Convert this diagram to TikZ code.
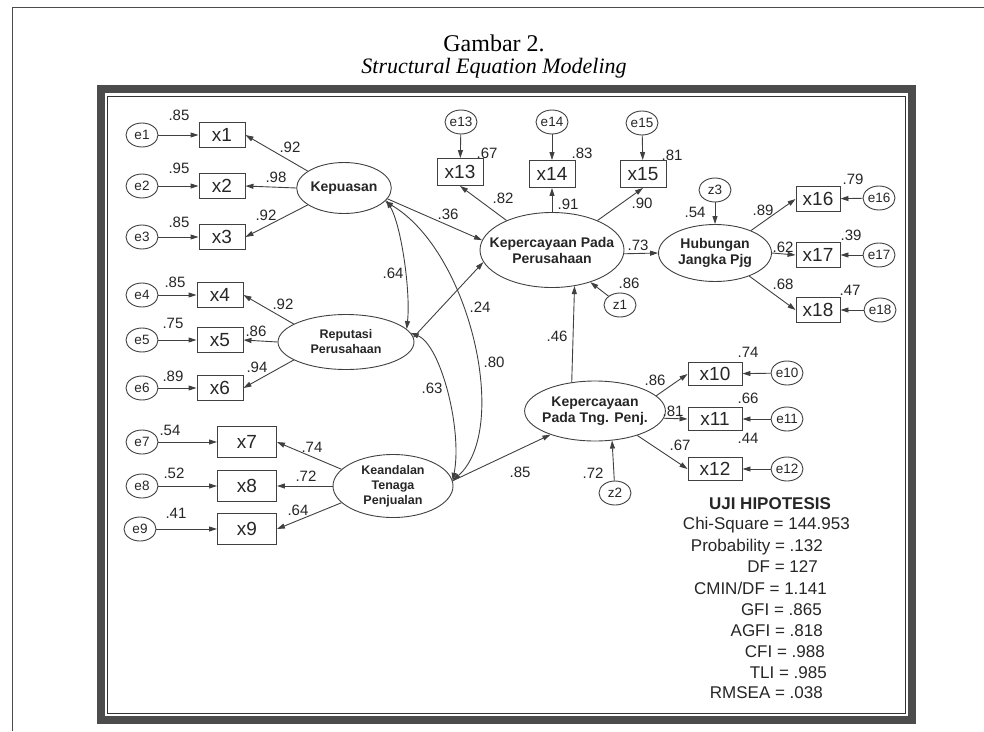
\documentclass[tikz,border=0pt]{standalone}
\usepackage{fontspec}
\setmainfont{Liberation Serif}
\setsansfont{Liberation Sans}
\usetikzlibrary{shapes, arrows.meta, calc}

\begin{document}
\begin{tikzpicture}[%
    x=1pt, y=-1pt,                          % one unit per pixel, y runs down
    >={Triangle[length=8pt, width=5pt]},    % filled heads as in the AMOS output
    ]

\useasboundingbox (0,0) rectangle (984,731);

\tikzset{
  base/.style={inner sep=0pt, text=black!85, font=\sffamily},
  obs/.style={base, draw=black!75, line width=0.9pt, minimum width=46, minimum height=25,
              font=\sffamily\fontsize{19}{19}\selectfont},
  obswide/.style={obs, minimum width=59, minimum height=31},
  lat/.style={base, draw=black!75, line width=0.9pt, ellipse, align=center,
              font=\sffamily\bfseries\fontsize{14}{16}\selectfont},
  latsmall/.style={lat, font=\sffamily\bfseries\fontsize{12.5}{15}\selectfont},
  err/.style={base, draw=black!75, line width=0.9pt, ellipse, minimum width=32, minimum height=24,
              font=\sffamily\fontsize{13.5}{13.5}\selectfont},
  coef/.style={base, font=\sffamily\fontsize{15}{15}\selectfont},
  stat/.style={base, anchor=east, font=\sffamily\fontsize{17}{17}\selectfont},
  link/.style={->, draw=black!75, line width=0.9pt},
  cov/.style={<->, draw=black!75, line width=0.9pt}
  };

% page and frame
\draw[black!70, line width=1pt] (12,731) -- (12,7) -- (984,7);
\draw[black!70, line width=8pt] (101,89) rectangle (912,720);
\draw[black!80, line width=0.8pt] (107,96) rectangle (905,713);

\node[font=\fontsize{24}{24}\selectfont] (title) at (494,43) {Gambar 2.};
\node[font=\itshape\fontsize{22}{22}\selectfont] (subtitle) at (494,68) {Structural Equation Modeling};

% Kepuasan
\node[lat, minimum width=92, minimum height=51] (kepuasan) at (344,188) {Kepuasan};
\node[obs] (x1) at (222,135) {x1};
\node[obs] (x2) at (222,186) {x2};
\node[obs] (x3) at (222,237) {x3};
\node[err] (e1) at (142,135) {e1};
\node[err] (e2) at (142,186) {e2};
\node[err] (e3) at (142,237) {e3};

\draw[link] (e1) -- (x1);
\draw[link] (e2) -- (x2);
\draw[link] (e3) -- (x3);
\draw[link] (kepuasan.155) -- (x1.east);
\draw[link] (kepuasan.west) -- (x2.east);
\draw[link] (kepuasan.205) -- (x3.east);

\node[coef] (sq1) at (179,115) {.85};
\node[coef] (sq2) at (179,168) {.95};
\node[coef] (sq3) at (179,222) {.85};
\node[coef] (ld1) at (290,147) {.92};
\node[coef] (ld2) at (276,177) {.98};
\node[coef] (ld3) at (266,215) {.92};

% Reputasi Perusahaan
\node[latsmall, minimum width=136, minimum height=55] (reputasi) at (346,342) {Reputasi\\Perusahaan};
\node[obs] (x4) at (220,295) {x4};
\node[obs] (x5) at (220,340) {x5};
\node[obs] (x6) at (220,388) {x6};
\node[err] (e4) at (142,295) {e4};
\node[err] (e5) at (142,340) {e5};
\node[err] (e6) at (142,388) {e6};

\draw[link] (e4) -- (x4);
\draw[link] (e5) -- (x5);
\draw[link] (e6) -- (x6);
\draw[link] (reputasi.161) -- (x4.east);
\draw[link] (reputasi.west) -- (x5.east);
\draw[link] (reputasi.199) -- (x6.east);

\node[coef] (sq4) at (175,282) {.85};
\node[coef] (sq5) at (173,323) {.75};
\node[coef] (sq6) at (173,376) {.89};
\node[coef] (ld4) at (283,304) {.92};
\node[coef] (ld5) at (256,331) {.86};
\node[coef] (ld6) at (257,367) {.94};

% Keandalan Tenaga Penjualan
\node[latsmall, minimum width=120, minimum height=63] (keandalan) at (393,486) {Keandalan\\Tenaga\\Penjualan};
\node[obswide] (x7) at (247,442) {x7};
\node[obswide] (x8) at (247,486) {x8};
\node[obswide] (x9) at (247,529) {x9};
\node[err] (e7) at (142,442) {e7};
\node[err] (e8) at (142,486) {e8};
\node[err] (e9) at (140,529) {e9};

\draw[link] (e7) -- (x7);
\draw[link] (e8) -- (x8);
\draw[link] (e9) -- (x9);
\draw[link] (keandalan.162) -- (x7.east);
\draw[link] (keandalan.west) -- (x8.east);
\draw[link] (keandalan.198) -- (x9.east);

\node[coef] (sq7) at (170,430) {.54};
\node[coef] (sq8) at (174,473) {.52};
\node[coef] (sq9) at (176,513) {.41};
\node[coef] (ld7) at (312,447) {.74};
\node[coef] (ld8) at (306,476) {.72};
\node[coef] (ld9) at (298,510) {.64};

% Kepercayaan Pada Perusahaan
\node[lat, inner xsep=-13pt, minimum width=144, minimum height=75] (percayaPerusahaan) at (552,250)
    {Kepercayaan Pada\\Perusahaan};
\node[obs, minimum height=27] (x13) at (460,172) {x13};
\node[obs, minimum height=27] (x14) at (552,174) {x14};
\node[obs, minimum height=27] (x15) at (643,174) {x15};
\node[err] (e13) at (461,122) {e13};
\node[err] (e14) at (552,122) {e14};
\node[err] (e15) at (642,123) {e15};
\node[err] (z1) at (620,305) {z1};

\draw[link] (e13) -- (x13);
\draw[link] (e14) -- (x14);
\draw[link] (e15) -- (x15);
\draw[link] (percayaPerusahaan.147) -- (x13.south);
\draw[link] (percayaPerusahaan.north) -- (x14.south);
\draw[link] (percayaPerusahaan.33) -- (x15.south);
\draw[link] (z1) -- (percayaPerusahaan.-40);

\node[coef] (sq13) at (487,153) {.67};
\node[coef] (sq14) at (582,153) {.83};
\node[coef] (sq15) at (672,155) {.81};
\node[coef] (ld13) at (503,198) {.82};
\node[coef] (ld14) at (568,204) {.91};
\node[coef] (ld15) at (642,203) {.90};
\node[coef] (sqPer) at (629,283) {.86};

% Hubungan Jangka Pjg
\node[lat, minimum width=113, minimum height=57] (hubungan) at (715,253) {Hubungan\\Jangka Pjg};
\node[obs, minimum width=44] (x16) at (818,199) {x16};
\node[obs, minimum width=44] (x17) at (818,255) {x17};
\node[obs, minimum width=44] (x18) at (818,310) {x18};
\node[err] (e16) at (879,198) {e16};
\node[err] (e17) at (879,255) {e17};
\node[err] (e18) at (880,310) {e18};
\node[err] (z3) at (715,190) {z3};

\draw[link] (e16) -- (x16);
\draw[link] (e17) -- (x17);
\draw[link] (e18) -- (x18);
\draw[link] (hubungan.32) -- (x16.west);
\draw[link] (hubungan.east) -- (x17.west);
\draw[link] (hubungan.-34) -- (x18.west);
\draw[link] (z3) -- (hubungan.north);

\node[coef] (sq16) at (853,179) {.79};
\node[coef] (sq17) at (851,235) {.39};
\node[coef] (sq18) at (850,290) {.47};
\node[coef] (ld16) at (763,210) {.89};
\node[coef] (ld17) at (783,247) {.62};
\node[coef] (ld18) at (783,284) {.68};
\node[coef] (sqHub) at (695,212) {.54};

% Kepercayaan Pada Tng. Penj.
\node[lat, inner xsep=-3pt, minimum width=140, minimum height=60] (percayaPenjual) at (595,411)
    {Kepercayaan\\Pada Tng. Penj.};
\node[obs, minimum width=54, minimum height=23] (x10) at (715,374) {x10};
\node[obs, minimum width=54, minimum height=23] (x11) at (715,419) {x11};
\node[obs, minimum width=54, minimum height=23] (x12) at (715,469) {x12};
\node[err] (e10) at (787,373) {e10};
\node[err] (e11) at (787,419) {e11};
\node[err] (e12) at (787,469) {e12};
\node[err] (z2) at (615,493) {z2};

\draw[link] (e10) -- (x10);
\draw[link] (e11) -- (x11);
\draw[link] (e12) -- (x12);
\draw[link] (percayaPenjual.14) -- (x10.west);
\draw[link] (percayaPenjual.-6) -- (x11.west);
\draw[link] (percayaPenjual.-30) -- (x12.west);
\draw[link] (z2) -- (percayaPenjual.-60);

\node[coef] (sq10) at (748,352) {.74};
\node[coef] (sq11) at (748,398) {.66};
\node[coef] (sq12) at (748,438) {.44};
\node[coef] (ld10) at (655,380) {.86};
\node[coef] (ld11) at (673,411) {.81};
\node[coef] (ld12) at (680,445) {.67};
\node[coef] (sqPen) at (593,473) {.72};

% structural paths
\draw[link] (kepuasan.-14) -- (percayaPerusahaan.172);
\draw[link] (reputasi.4) -- (percayaPerusahaan.190);
\draw[link] (keandalan.5) -- (percayaPenjual.208);
\draw[link] (percayaPenjual.129) -- (percayaPerusahaan.-58);
\draw[link] (percayaPerusahaan.-3) -- (hubungan.west);

\node[coef] (cKepPer) at (448,214) {.36};
\node[coef] (cRepPer) at (480,307) {.24};
\node[coef] (cKeaPen) at (520,472) {.85};
\node[coef] (cPenPer) at (557,336) {.46};
\node[coef] (cPerHub) at (638,245) {.73};

% correlations
\draw[cov] (kepuasan.-16) .. controls +(15,25) and +(4,-38) .. (reputasi.12);
\draw[cov] (kepuasan.-18) .. controls +(85,50) and +(58,-52) .. (keandalan.5);
\draw[cov] (reputasi.8) .. controls +(30,12) and +(10,-51) .. (keandalan.5);

\node[coef] (rKepRep) at (393,273) {.64};
\node[coef] (rKepKea) at (494,362) {.80};
\node[coef] (rRepKea) at (432,388) {.63};

% fit indices
\node[base, font=\sffamily\bfseries\fontsize{17}{17}\selectfont] (uji) at (770,504) {UJI HIPOTESIS};
\node[stat] (chi) at (850,525) {Chi-Square = 144.953};
\node[stat] (prob) at (823,547) {Probability = .132};
\node[stat] (df) at (818,567) {DF = 127};
\node[stat] (cmin) at (827,588) {CMIN/DF = 1.141};
\node[stat] (gfi) at (822,610) {GFI = .865};
\node[stat] (agfi) at (823,631) {AGFI = .818};
\node[stat] (cfi) at (825,652) {CFI = .988};
\node[stat] (tli) at (827,673) {TLI = .985};
\node[stat] (rmsea) at (823,693) {RMSEA = .038};

\end{tikzpicture}
\end{document}
